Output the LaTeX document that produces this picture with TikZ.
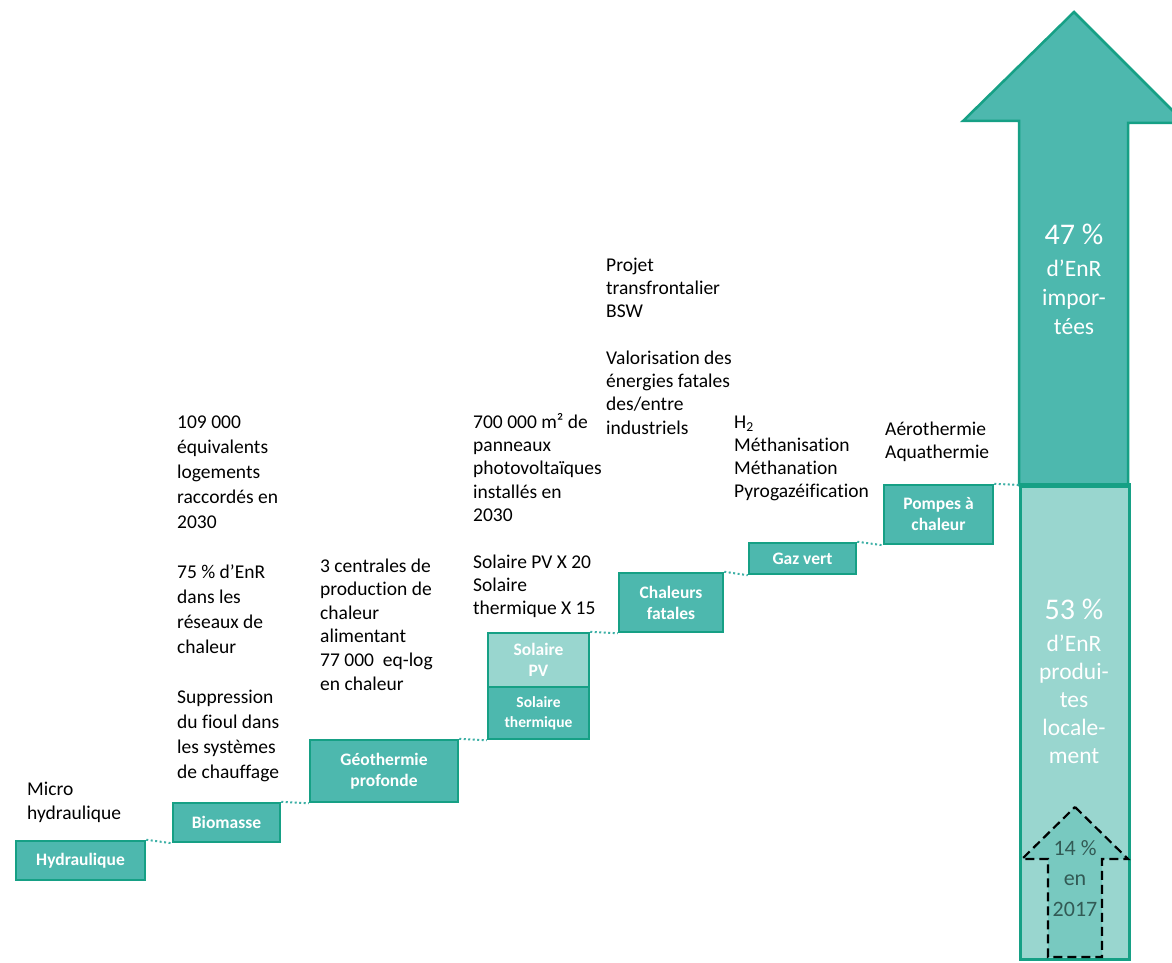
\documentclass[tikz,border=0pt]{standalone}
\usepackage{fontspec}
\setmainfont{Carlito}[Ligatures=NoCommon]
\definecolor{tdark}{RGB}{22,160,133}
\definecolor{tmid}{RGB}{77,184,174}
\definecolor{tlight}{RGB}{153,214,207}
\definecolor{tdash}{RGB}{120,201,192}
\definecolor{tdot}{RGB}{60,175,165}
\definecolor{tgray}{RGB}{50,90,85}
\newcommand\txtlines[5]{\foreach \t [count=\i from 0] in {#5} \node[txt] (#1\i) at (#2,#3+\i*#4) {\t};}
\begin{document}
\begin{tikzpicture}[x=1pt,y=-1pt,
  box/.style={draw=tdark, line width=2.5pt, fill=tmid, text=white, align=center, inner sep=0pt,
    font=\bfseries\fontsize{17.5}{21}\selectfont},
  conn/.style={draw=tdot, line width=2pt, dash pattern=on 2pt off 2.5pt},
  txt/.style={anchor=base west, inner sep=0pt, font=\fontsize{19.5}{23.4}\selectfont},
  wtxt/.style={anchor=base, inner sep=0pt, text=white, font=\fontsize{23.5}{28}\selectfont},
  btxt/.style={anchor=base, inner sep=0pt, text=white, font=\fontsize{30}{34}\selectfont},
  gtxt/.style={anchor=base, inner sep=0pt, text=tgray, font=\fontsize{22}{25}\selectfont}]
\useasboundingbox (0,0) rectangle (1172,963);

% big arrow (upper, imported)
\draw[draw=tdark, line width=2.5pt, fill=tmid, line join=miter]
  (1019,485) -- (1019,121) -- (963,121) -- (1074,12) -- (1185,123) -- (1128,123) -- (1128,485) -- cycle;
\node[draw=tdark, line width=2.5pt, fill=tlight, anchor=north west, minimum width=109pt, minimum height=473pt, inner sep=0pt] (loc) at (1019,485) {};
\draw[tdark, line width=3.5pt] (loc.north west) -- (loc.north east);

% dashed 2017 arrow
\draw[black, line width=2.2pt, dash pattern=on 9pt off 5pt, fill=tdash]
  (1075,807) -- (1128,859) -- (1102,859) -- (1102,957) -- (1048,957) -- (1048,859) -- (1022,859) -- cycle;

\node[btxt] (p47) at (1074,244) {47 \%};
\node[wtxt] (a1) at (1074,276) {d’EnR};
\node[wtxt] (a2) at (1074,305) {impor-};
\node[wtxt] (a3) at (1074,334) {tées};

\node[btxt] (p53) at (1074,619) {53 \%};
\node[wtxt] (l1) at (1074,651) {d’EnR};
\node[wtxt] (l2) at (1074,679) {produi-};
\node[wtxt] (l3) at (1074,707) {tes};
\node[wtxt] (l4) at (1074,735) {locale-};
\node[wtxt] (l5) at (1074,763) {ment};

\node[gtxt] (g1) at (1075,855) {14 \%};
\node[gtxt] (g2) at (1075,885.5) {en};
\node[gtxt] (g3) at (1075,916) {2017};

% step boxes
\node[box, minimum width=129pt, minimum height=39pt] (hyd) at (80.5,860.5) {Hydraulique};
\node[box, minimum width=107pt, minimum height=39pt] (bio) at (226.5,822.5) {Biomasse};
\node[box, minimum width=148pt, minimum height=62pt] (geo) at (384,771) {Géothermie\\profonde};
\node[box, fill=tlight, minimum width=101pt, minimum height=54pt] (spv) at (538.5,660) {Solaire\\PV};
\node[box, minimum width=101pt, minimum height=52pt, font=\bfseries\fontsize{15.5}{20}\selectfont] (sth) at (538.5,713) {Solaire\\thermique};
\node[box, minimum width=104pt, minimum height=59pt] (chf) at (671,602.5) {Chaleurs\\fatales};
\node[box, minimum width=107pt, minimum height=31pt] (gaz) at (802.5,558.5) {Gaz vert};
\node[box, minimum width=109pt, minimum height=59pt] (pac) at (938.5,514.5) {Pompes à\\chaleur};

% dotted connectors
\draw[conn] (hyd.north east) -- (bio.south west);
\draw[conn] (bio.north east) -- (geo.south west);
\draw[conn] (geo.north east) -- (sth.south west);
\draw[conn] (spv.north east) -- (chf.south west);
\draw[conn] (chf.north east) -- (gaz.south west);
\draw[conn] (gaz.north east) -- (pac.south west);
\draw[conn] (pac.north east) -- (loc.north west);

% text blocks
\txtlines{mh}{27}{795}{24.5}{Micro,hydraulique}
\txtlines{ba}{177}{428}{25}{109 000,équivalents,logements,raccordés en,2030}
\txtlines{bb}{177}{578}{25}{75 \% d’EnR,dans les,réseaux de,chaleur}
\txtlines{bc}{177}{703}{25}{Suppression,du fioul dans,les systèmes,de chauffage}
\txtlines{ga}{320}{572}{23.6}{3 centrales de,production de,chaleur,alimentant,77 000\ \ eq-log,en chaleur}
\txtlines{sa}{473}{428}{23.4}{700 000 m² de,panneaux,photovoltaïques,installés en,2030}
\txtlines{sb}{473}{568}{23.4}{Solaire PV X 20,Solaire,thermique X 15}
\txtlines{ca}{606}{271}{23.4}{Projet,transfrontalier,BSW}
\txtlines{cb}{606}{364}{23.4}{Valorisation des,énergies fatales,des/entre,industriels}
\txtlines{va}{734}{428}{23.3}{H\textsubscript{2},Méthanisation,Méthanation,Pyrogazéification}
\txtlines{pa}{885}{435}{23}{Aérothermie,Aquathermie}
\end{tikzpicture}
\end{document}
